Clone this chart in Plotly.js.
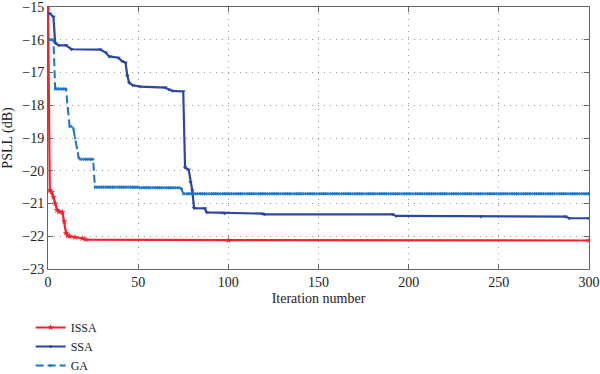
<!DOCTYPE html>
<html>
<head>
<meta charset="utf-8">
<script src="https://cdn.plot.ly/plotly-3.0.1.min.js"></script>
<style>html,body{margin:0;padding:0;background:#fff;}#chart{width:600px;height:374px;}</style>
</head>
<body>
<div id="chart"></div>
<script>
// ISSA (breakpoints)
const issaX = [0, 1, 2, 3, 4, 5, 6, 8, 9, 10, 11, 12, 15, 19, 21, 100, 300];
const issaY = [-15, -20.6, -20.65, -20.8, -21.0, -21.2, -21.25, -21.27, -21.55, -21.9, -21.98, -22.0, -22.03, -22.06, -22.1, -22.12, -22.13];
// SSA (breakpoints)
const ssaX = [0, 1, 3, 4, 6, 10, 13, 29, 32, 34, 39, 41, 43, 44, 45, 47, 51, 65, 67, 69, 75, 76, 78, 79, 80, 81, 87, 88, 97, 98, 119, 120, 191, 193, 240, 287, 289, 300];
const ssaY = [-15.2, -15.2, -15.3, -16.1, -16.17, -16.17, -16.29, -16.3, -16.39, -16.51, -16.55, -16.65, -16.7, -17.1, -17.31, -17.39, -17.43, -17.46, -17.52, -17.56, -17.58, -19.9, -19.97, -20.35, -20.6, -21.14, -21.15, -21.27, -21.28, -21.3, -21.31, -21.33, -21.33, -21.38, -21.4, -21.4, -21.45, -21.45];
// GA (value at every iteration 0..300)
const gaY = [
-16,-16,-16,-16,-17.5,-17.5,-17.5,-17.5,-17.5,-17.5,
-17.5,-18.1,-18.65,-18.65,-18.7,-19.0,-19.3,-19.6,-19.65,-19.65,
-19.65,-19.65,-19.65,-19.65,-19.65,-19.65,-20.5,-20.5,-20.5,-20.5,
-20.5,-20.5,-20.5,-20.5,-20.5,-20.5,-20.5,-20.5,-20.5,-20.5,
-20.5,-20.5,-20.5,-20.5,-20.5,-20.5,-20.5,-20.5,-20.5,-20.5,
-20.5,-20.52,-20.52,-20.52,-20.52,-20.52,-20.52,-20.52,-20.52,-20.52,
-20.52,-20.52,-20.52,-20.52,-20.52,-20.52,-20.52,-20.52,-20.52,-20.52,
-20.52,-20.52,-20.52,-20.52,-20.55,-20.7,-20.7,-20.7,-20.7,-20.7,
-20.7,-20.7,-20.7,-20.7,-20.7,-20.7,-20.7,-20.7,-20.7,-20.7,
-20.7,-20.7,-20.7,-20.7,-20.7,-20.7,-20.7,-20.7,-20.7,-20.7,
-20.7,-20.7,-20.7,-20.7,-20.7,-20.7,-20.7,-20.7,-20.7,-20.7,
-20.7,-20.7,-20.7,-20.7,-20.7,-20.7,-20.7,-20.7,-20.7,-20.7,
-20.7,-20.7,-20.7,-20.7,-20.7,-20.7,-20.7,-20.7,-20.7,-20.7,
-20.7,-20.7,-20.7,-20.7,-20.7,-20.7,-20.7,-20.7,-20.7,-20.7,
-20.7,-20.7,-20.7,-20.7,-20.7,-20.7,-20.7,-20.7,-20.7,-20.7,
-20.7,-20.7,-20.7,-20.7,-20.7,-20.7,-20.7,-20.7,-20.7,-20.7,
-20.7,-20.7,-20.7,-20.7,-20.7,-20.7,-20.7,-20.7,-20.7,-20.7,
-20.7,-20.7,-20.7,-20.7,-20.7,-20.7,-20.7,-20.7,-20.7,-20.7,
-20.7,-20.7,-20.7,-20.7,-20.7,-20.7,-20.7,-20.7,-20.7,-20.7,
-20.7,-20.7,-20.7,-20.7,-20.7,-20.7,-20.7,-20.7,-20.7,-20.7,
-20.7,-20.7,-20.7,-20.7,-20.7,-20.7,-20.7,-20.7,-20.7,-20.7,
-20.7,-20.7,-20.7,-20.7,-20.7,-20.7,-20.7,-20.7,-20.7,-20.7,
-20.7,-20.7,-20.7,-20.7,-20.7,-20.7,-20.7,-20.7,-20.7,-20.7,
-20.7,-20.7,-20.7,-20.7,-20.7,-20.7,-20.7,-20.7,-20.7,-20.7,
-20.7,-20.7,-20.7,-20.7,-20.7,-20.7,-20.7,-20.7,-20.7,-20.7,
-20.7,-20.7,-20.7,-20.7,-20.7,-20.7,-20.7,-20.7,-20.7,-20.7,
-20.7,-20.7,-20.7,-20.7,-20.7,-20.7,-20.7,-20.7,-20.7,-20.7,
-20.7,-20.7,-20.7,-20.7,-20.7,-20.7,-20.7,-20.7,-20.7,-20.7,
-20.7,-20.7,-20.7,-20.7,-20.7,-20.7,-20.7,-20.7,-20.7,-20.7,
-20.7,-20.7,-20.7,-20.7,-20.7,-20.7,-20.7,-20.7,-20.7,-20.7,
-20.7
];
const gaX = gaY.map((_, i) => i);

const xTicks = [0, 50, 100, 150, 200, 250, 300];
const yTicks = [-23, -22, -21, -20, -19, -18, -17, -16, -15];

const font = "Liberation Serif, Times New Roman, serif";

const traces = [
  {x: issaX, y: issaY, name: 'ISSA', mode: 'lines+markers', type: 'scatter',
   line: {color: '#f5222d', width: 2.2},
   marker: {symbol: 'star', size: 5, color: '#f5222d'}},
  {x: ssaX, y: ssaY, name: 'SSA', mode: 'lines+markers', type: 'scatter',
   line: {color: '#2c46a6', width: 2.2},
   marker: {symbol: 'triangle-down', size: 4, color: '#2c46a6'}},
  {x: gaX, y: gaY, name: 'GA', mode: 'lines+markers', type: 'scatter',
   line: {color: '#1b75c6', width: 2, dash: '8px,4px'},
   marker: {symbol: 'triangle-right', size: 3.5, color: '#1b75c6'}}
];

const axisCommon = {
  showline: true, mirror: 'ticks', linecolor: '#666', linewidth: 1,
  ticks: 'inside', ticklen: 5, tickcolor: '#666',
  showgrid: true, gridcolor: '#999', griddash: '1px,5px', gridwidth: 1,
  zeroline: false, tickfont: {family: font, size: 14, color: '#222'},
  tickmode: 'array', ticklabeloverflow: 'allow'
};

const layout = {
  width: 600, height: 374,
  margin: {l: 48, r: 11, t: 7, b: 105, autoexpand: false},
  paper_bgcolor: '#fff', plot_bgcolor: '#fff',
  font: {family: font, size: 14, color: '#222'},
  xaxis: Object.assign({}, axisCommon, {
    range: [0, 300], tickvals: xTicks, ticktext: xTicks.map(String),
    title: {text: 'Iteration number', font: {family: font, size: 14, color: '#222'}, standoff: 4}
  }),
  yaxis: Object.assign({}, axisCommon, {
    range: [-23, -15], tickvals: yTicks, ticktext: yTicks.map(v => '\u2212' + Math.abs(v)),
    title: {text: 'PSLL (dB)', font: {family: font, size: 14, color: '#222'}, standoff: 6}
  }),
  showlegend: true,
  legend: {x: -0.032, xanchor: 'left', y: -0.168, yanchor: 'top',
    font: {family: font, size: 12, color: '#222'}, bgcolor: 'rgba(0,0,0,0)',
    tracegroupgap: 0, itemwidth: 30}
};

Plotly.newPlot('chart', traces, layout, {displayModeBar: false, staticPlot: true});
</script>
</body>
</html>
